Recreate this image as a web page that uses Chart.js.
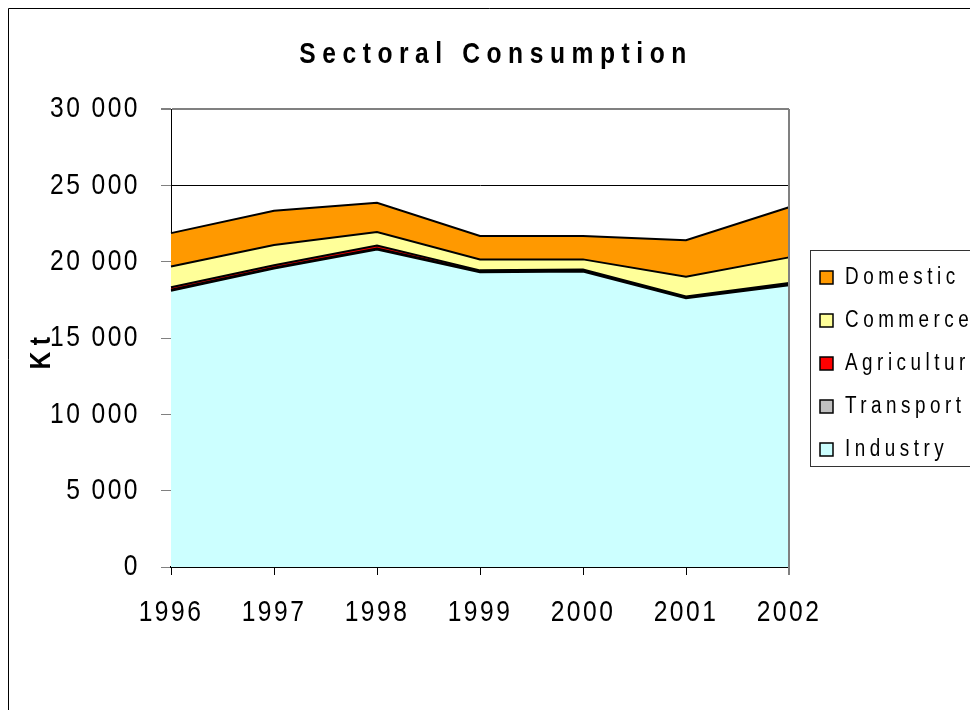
<!DOCTYPE html>
<html>
<head>
<meta charset="utf-8">
<title>Sectoral Consumption</title>
<script src="https://cdn.jsdelivr.net/npm/chart.js@4.4.1/dist/chart.umd.min.js"></script>
<style>
  body { margin: 0; background: #fff; }
  canvas { display: block; }
</style>
</head>
<body>
<canvas id="sectorChart" width="970" height="710"></canvas>
<script>
// Chart data (Kt)
const years = ['1996', '1997', '1998', '1999', '2000', '2001', '2002'];
const industry = [18100, 19550, 20800, 19300, 19350, 17600, 18450];
const transport = [60, 60, 60, 50, 50, 50, 50];
const agriculture = [170, 150, 190, 80, 80, 70, 110];
const commerce = [1350, 1330, 890, 720, 670, 1290, 1670];
const domestic = [2190, 2240, 1920, 1530, 1530, 2400, 3280];
const yTicks = [0, 5000, 10000, 15000, 20000, 25000, 30000];

const FONT = '"Liberation Sans", Arial, sans-serif';
const NARROW = 0.82; // squeeze text horizontally, like Arial Narrow

// Format numbers like "30 000"
function formatKt(value) {
    return String(value).replace(/\B(?=(\d{3})+(?!\d))/g, ' ');
}

function makeDataset(label, data, color, fill) {
    return {
        label: label,
        data: data,
        backgroundColor: color,
        borderColor: '#000',
        borderWidth: 2,
        pointRadius: 0,
        tension: 0,
        fill: fill
    };
}

// Title, axis title, legend and frames
const decorPlugin = {
    id: 'decor',
    beforeDraw(chart) {
        const ctx = chart.ctx;
        if (!ctx._narrowed) {
            const origFill = ctx.fillText;
            ctx.fillText = function(text, x, y, maxWidth) {
                this.save();
                this.translate(x, y);
                this.scale(NARROW, 1);
                if (maxWidth === undefined) {
                    origFill.call(this, text, 0, 0);
                } else {
                    origFill.call(this, text, 0, 0, maxWidth / NARROW);
                }
                this.restore();
            };
            ctx._narrowed = true;
        }
        ctx.letterSpacing = '3px';
    },
    afterDraw(chart) {
        const ctx = chart.ctx;
        const area = chart.chartArea;
        ctx.save();

        // outer frame
        ctx.strokeStyle = '#000';
        ctx.lineWidth = 1;
        ctx.beginPath();
        ctx.moveTo(8.5, 710);
        ctx.lineTo(8.5, 8.5);
        ctx.lineTo(970, 8.5);
        ctx.stroke();

        // plot right border
        ctx.strokeStyle = '#808080';
        ctx.lineWidth = 2;
        ctx.beginPath();
        ctx.moveTo(area.right, area.top);
        ctx.lineTo(area.right, area.bottom + 8);
        ctx.stroke();

        // title
        ctx.fillStyle = '#000';
        ctx.font = 'bold 30px ' + FONT;
        ctx.letterSpacing = '8px';
        ctx.textAlign = 'center';
        ctx.textBaseline = 'alphabetic';
        ctx.fillText('Sectoral Consumption', 496, 63);

        // y-axis title
        ctx.save();
        ctx.translate(50, 353);
        ctx.rotate(-Math.PI / 2);
        ctx.font = 'bold 30px ' + FONT;
        ctx.letterSpacing = '8px';
        ctx.fillText('Kt', 3, 0);
        ctx.restore();

        // legend box
        ctx.strokeStyle = '#333';
        ctx.lineWidth = 1;
        ctx.strokeRect(810.5, 250.5, 170, 216);

        const items = chart.data.datasets.slice().reverse();
        ctx.font = '23px ' + FONT;
        ctx.letterSpacing = '5.5px';
        ctx.textAlign = 'left';
        ctx.textBaseline = 'middle';
        items.forEach(function(ds, i) {
            const cy = 277 + i * 43;
            ctx.fillStyle = ds.backgroundColor;
            ctx.fillRect(820, cy - 6, 13, 13);
            ctx.strokeStyle = '#000';
            ctx.lineWidth = 1.5;
            ctx.strokeRect(820, cy - 6, 13, 13);
            ctx.fillStyle = '#000';
            ctx.fillText(ds.label, 845, cy + 1);
        });

        ctx.restore();
        ctx.letterSpacing = '3px';
    }
};

const chart = new Chart(document.getElementById('sectorChart'), {
    type: 'line',
    data: {
        labels: years,
        datasets: [
            makeDataset('Industry', industry, '#CCFFFF', 'origin'),
            makeDataset('Transport', transport, '#C0C0C0', '-1'),
            makeDataset('Agriculture', agriculture, '#FF0000', '-1'),
            makeDataset('Commerce', commerce, '#FFFF99', '-1'),
            makeDataset('Domestic', domestic, '#FF9900', '-1')
        ]
    },
    options: {
        responsive: false,
        animation: false,
        layout: { padding: { top: 109, right: 181, left: 0, bottom: 0 } },
        plugins: {
            legend: { display: false },
            title: { display: false },
            tooltip: { enabled: false }
        },
        scales: {
            x: {
                offset: false,
                grid: {
                    drawOnChartArea: false,
                    drawTicks: true,
                    tickLength: 8,
                    tickColor: '#000',
                    tickWidth: 1
                },
                border: { color: '#000', width: 2 },
                ticks: {
                    color: '#000',
                    font: { family: FONT, size: 30 },
                    padding: 20,
                    maxRotation: 0
                },
                afterFit(scale) { scale.height = 143; }
            },
            y: {
                stacked: true,
                min: 0,
                max: 30000,
                afterBuildTicks(scale) {
                    scale.ticks = yTicks.map(v => ({ value: v }));
                },
                grid: {
                    color: ctx => ctx.tick && ctx.tick.value === 30000 ? '#808080' : '#000',
                    lineWidth: ctx => ctx.tick && ctx.tick.value === 30000 ? 2 : 1,
                    tickLength: 10,
                    tickColor: '#808080'
                },
                border: { color: '#000', width: 1 },
                ticks: {
                    color: '#000',
                    font: { family: FONT, size: 30 },
                    padding: 21,
                    callback: value => formatKt(value)
                },
                afterFit(scale) { scale.width = 171; }
            }
        }
    },
    plugins: [decorPlugin]
});
</script>
</body>
</html>
